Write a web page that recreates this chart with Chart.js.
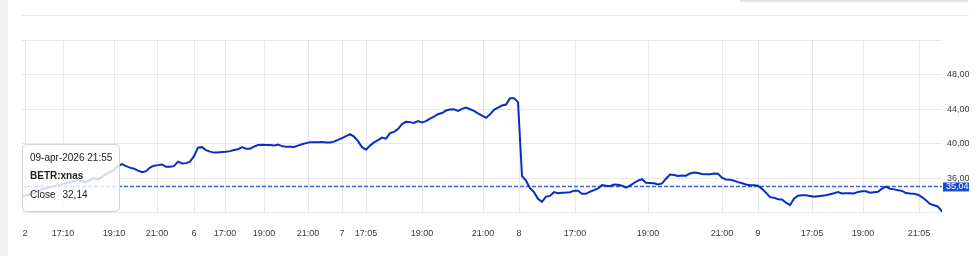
<!DOCTYPE html>
<html>
<head>
<meta charset="utf-8">
<script src="https://cdn.jsdelivr.net/npm/chart.js@4/dist/chart.umd.min.js"></script>
<style>
  html, body { margin:0; padding:0; background:#ffffff; }
  #wrap { position:relative; width:980px; height:256px; overflow:hidden; }
  #leftStrip { position:absolute; left:0; top:0; width:8px; height:256px; background:#f2f2f5; }
  #topLine { position:absolute; left:22px; top:15px; width:947px; height:1px; background:#e7e7ea; }
  #topBox { position:absolute; left:740px; top:0; width:228px; height:2px; background:#e4e4e8; }
  canvas { position:absolute; left:0; top:0; }
</style>
</head>
<body>
<div id="wrap">
  <div id="leftStrip"></div>
  <div id="topLine"></div>
  <div id="topBox"></div>
  <canvas id="c" width="980" height="256"></canvas>
</div>
<script>
// ---- data ----
const closeValues = [
  33.80, 34.03, 34.14, 34.26, 34.49, 34.72, 34.84, 34.96, 35.07, 35.19,
  35.30, 35.42, 35.54, 35.65, 35.77, 35.65, 35.54, 35.77, 36.00, 35.88,
  36.12, 36.46, 36.70, 36.93, 37.39, 37.62, 37.39, 37.22, 37.10, 36.87,
  36.70, 36.81, 37.22, 37.45, 37.51, 37.59, 37.31, 37.33, 37.39, 37.91,
  37.70, 37.74, 37.91, 38.55, 39.54, 39.59, 39.25, 39.07, 38.96, 38.98,
  39.04, 39.07, 39.13, 39.25, 39.34, 39.59, 39.42, 39.42, 39.65, 39.83,
  39.88, 39.83, 39.83, 39.77, 39.88, 39.71, 39.65, 39.65, 39.62, 39.77,
  39.92, 40.06, 40.17, 40.17, 40.15, 40.20, 40.14, 40.12, 40.23, 40.43,
  40.64, 40.87, 41.10, 40.81, 40.29, 39.59, 39.30, 39.77, 40.14, 40.41,
  40.70, 40.58, 41.22, 41.36, 41.68, 42.26, 42.53, 42.49, 42.40, 42.61,
  42.46, 42.61, 42.90, 43.13, 43.40, 43.54, 43.83, 43.94, 43.98, 43.79,
  44.02, 44.17, 43.98, 43.79, 43.50, 43.25, 42.98, 43.39, 43.91, 44.17,
  44.41, 44.52, 45.24, 45.24, 44.81, 36.23, 35.71, 34.84, 34.38, 33.62,
  33.25, 33.86, 33.95, 34.38, 34.26, 34.32, 34.34, 34.38, 34.55, 34.55,
  34.20, 34.19, 34.43, 34.61, 34.81, 35.19, 35.13, 35.07, 35.27, 35.23,
  35.13, 34.90, 35.13, 35.44, 35.71, 35.88, 35.46, 35.44, 35.40, 35.28,
  35.39, 35.94, 36.41, 36.37, 36.25, 36.32, 36.29, 36.55, 36.66, 36.60,
  36.49, 36.46, 36.46, 36.53, 36.52, 36.06, 35.85, 35.83, 35.71, 35.54,
  35.42, 35.27, 35.19, 35.19, 35.13, 34.76, 34.32, 33.80, 33.74, 33.57,
  33.53, 33.16, 32.87, 33.62, 33.97, 34.03, 34.03, 33.94, 33.86, 33.91,
  33.97, 34.03, 34.14, 34.26, 34.40, 34.23, 34.26, 34.26, 34.23, 34.41,
  34.47, 34.49, 34.32, 34.38, 34.43, 34.78, 35.01, 34.78, 34.70, 34.61,
  34.53, 34.28, 34.23, 34.20, 34.09, 33.80, 33.45, 33.01, 32.87, 32.70,
  32.14
];
const xTickIndex  = [0.75, 10.25, 23, 33.75, 43, 50.75, 60.5, 71.5, 80, 86, 100, 115.25, 124.25, 138.25, 156.5, 175, 184, 197.5, 210.25, 224.25];
const xTickLabels = ['2','17:10','19:10','21:00','6','17:00','19:00','21:00','7','17:05','19:00','21:00','8','17:00','19:00','21:00','9','17:05','19:00','21:05'];
const yTickValues = [32, 36, 40, 44, 48, 52];
const yTickLabels = ['', '36,00', '40,00', '44,00', '48,00', ''];
const refLevel = 35.04;
const refLabel = '35,04';
const tooltipDate = '09-apr-2026 21:55';
const tooltipSymbol = 'BETR:xnas';
const tooltipField = 'Close';
const tooltipValue = '32,14';

// ---- chart ----
const FONT = '"Liberation Sans", Arial, Helvetica, sans-serif';
const GRID = '#e8e8ec';

const refLinePlugin = {
  id: 'refLine',
  beforeDatasetsDraw(chart) {
    const { ctx, chartArea } = chart;
    const y = chart.scales.y.getPixelForValue(refLevel);
    ctx.save();
    ctx.strokeStyle = '#3f66d8';
    ctx.lineWidth = 1.5;
    ctx.setLineDash([4, 2]);
    ctx.beginPath();
    ctx.moveTo(chartArea.left, y);
    ctx.lineTo(chartArea.right, y);
    ctx.stroke();
    ctx.restore();
  },
  afterDraw(chart) {
    const { ctx, chartArea } = chart;
    const y = chart.scales.y.getPixelForValue(refLevel);
    ctx.save();
    ctx.fillStyle = '#1c4bd3';
    ctx.fillRect(chartArea.right + 1, y - 4, 26, 9);
    ctx.fillStyle = '#ffffff';
    ctx.font = '9px ' + FONT;
    ctx.textBaseline = 'middle';
    ctx.textAlign = 'left';
    ctx.fillText(refLabel, chartArea.right + 4, y + 0.5);
    ctx.restore();

    // tooltip box
    ctx.save();
    const bx = 22.5, by = 144.5, bw = 97, bh = 67;
    ctx.beginPath();
    ctx.roundRect(bx, by, bw, bh, 4);
    ctx.fillStyle = 'rgba(255,255,255,0.82)';
    ctx.fill();
    ctx.strokeStyle = '#d4d4d8';
    ctx.lineWidth = 1;
    ctx.stroke();
    ctx.fillStyle = '#222222';
    ctx.textBaseline = 'middle';
    ctx.textAlign = 'left';
    ctx.font = '10px ' + FONT;
    ctx.fillText(tooltipDate, 30, 158);
    ctx.font = 'bold 10px ' + FONT;
    ctx.fillText(tooltipSymbol, 30, 176.5);
    ctx.font = '10px ' + FONT;
    ctx.fillText(tooltipField, 30, 195);
    ctx.fillText(tooltipValue, 62.5, 195);
    ctx.restore();
  }
};

new Chart(document.getElementById('c'), {
  type: 'line',
  data: {
    datasets: [{
      data: closeValues.map((v, i) => ({ x: i, y: v })),
      borderColor: '#0630c2',
      borderWidth: 2,
      pointRadius: 0,
      tension: 0,
      fill: false
    }]
  },
  options: {
    responsive: false,
    animation: false,
    devicePixelRatio: 1,
    layout: { padding: { left: 22, top: 40, right: 0, bottom: 0 } },
    plugins: { legend: { display: false }, tooltip: { enabled: false } },
    scales: {
      x: {
        type: 'linear',
        min: 0,
        max: closeValues.length - 1,
        afterBuildTicks(s) { s.ticks = xTickIndex.map(v => ({ value: v })); },
        afterFit(s) { s.height = 43.3; },
        grid: { color: GRID, lineWidth: 1, drawTicks: false },
        border: { display: false },
        ticks: {
          autoSkip: false,
          maxRotation: 0,
          padding: 15,
          color: '#3a3a3a',
          font: { family: FONT, size: 9 },
          callback: (v, i) => xTickLabels[i]
        }
      },
      y: {
        position: 'right',
        min: 32,
        max: 52,
        afterBuildTicks(s) { s.ticks = yTickValues.map(v => ({ value: v })); },
        afterFit(s) { s.width = 38; },
        grid: { color: GRID, lineWidth: 1, drawTicks: false },
        border: { display: false },
        ticks: {
          padding: 5,
          color: '#3a3a3a',
          font: { family: FONT, size: 9 },
          callback: (v, i) => yTickLabels[i]
        }
      }
    }
  },
  plugins: [refLinePlugin]
});
</script>
</body>
</html>
